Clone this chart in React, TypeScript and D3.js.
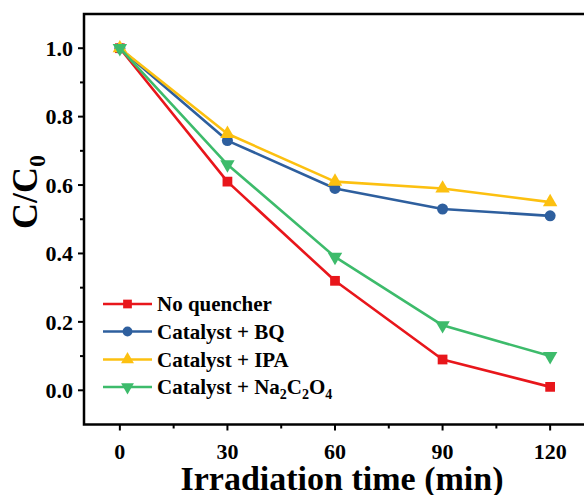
import React, { useEffect, useRef } from "react";
import * as d3 from "d3";

const times = [0, 30, 60, 90, 120];
const noQuencher = [1.0, 0.61, 0.32, 0.09, 0.01];
const catalystBQ = [1.0, 0.73, 0.59, 0.53, 0.51];
const catalystIPA = [1.0, 0.75, 0.61, 0.59, 0.55];
const catalystNa = [1.0, 0.66, 0.39, 0.19, 0.1];

const xTicks = [0, 30, 60, 90, 120];
const xMinor = [15, 45, 75, 105];
const yTicks = [0.0, 0.2, 0.4, 0.6, 0.8, 1.0];
const yMinor = [0.1, 0.3, 0.5, 0.7, 0.9];

const series = [
  { name: "No quencher", values: noQuencher, color: "#e8161b", symbol: d3.symbolSquare, size: 95, rot: 0 },
  { name: "Catalyst + BQ", values: catalystBQ, color: "#2e5f9e", symbol: d3.symbolCircle, size: 95, rot: 0 },
  { name: "Catalyst + IPA", values: catalystIPA, color: "#fcc010", symbol: d3.symbolTriangle, size: 90, rot: 0 },
  { name: "Catalyst + Na2C2O4", values: catalystNa, color: "#3dbb6b", symbol: d3.symbolTriangle, size: 90, rot: 180 },
];

const W = 584;
const H = 495;
const FONT = "'Liberation Serif', 'Times New Roman', serif";

export default function App() {
  const ref = useRef<SVGSVGElement>(null);

  useEffect(() => {
    const svg = d3.select(ref.current);
    svg.selectAll("*").remove();

    const x = d3.scaleLinear().domain([-10, 130]).range([84, 586]);
    const y = d3.scaleLinear().domain([-0.1, 1.1]).range([424.5, 14]);

    svg.append("rect").attr("width", W).attr("height", H).attr("fill", "#fff");

    // frame
    svg
      .append("rect")
      .attr("x", x(-10))
      .attr("y", y(1.1))
      .attr("width", x(130) - x(-10))
      .attr("height", y(-0.1) - y(1.1))
      .attr("fill", "none")
      .attr("stroke", "#000")
      .attr("stroke-width", 2.5);

    const g = svg.append("g").attr("font-family", FONT).attr("font-weight", "bold");

    // x ticks
    xTicks.forEach((t) => {
      g.append("line")
        .attr("x1", x(t)).attr("x2", x(t))
        .attr("y1", y(-0.1)).attr("y2", y(-0.1) + 6)
        .attr("stroke", "#000").attr("stroke-width", 2);
      g.append("text")
        .attr("x", x(t)).attr("y", 459)
        .attr("text-anchor", "middle")
        .attr("font-size", 22)
        .text(t);
    });
    xMinor.forEach((t) => {
      g.append("line")
        .attr("x1", x(t)).attr("x2", x(t))
        .attr("y1", y(-0.1)).attr("y2", y(-0.1) + 4)
        .attr("stroke", "#000").attr("stroke-width", 2);
    });

    // y ticks
    yTicks.forEach((t) => {
      g.append("line")
        .attr("x1", x(-10) - 6).attr("x2", x(-10))
        .attr("y1", y(t)).attr("y2", y(t))
        .attr("stroke", "#000").attr("stroke-width", 2);
      g.append("text")
        .attr("x", 73).attr("y", y(t))
        .attr("dy", "0.35em")
        .attr("text-anchor", "end")
        .attr("font-size", 22)
        .text(t.toFixed(1));
    });
    yMinor.forEach((t) => {
      g.append("line")
        .attr("x1", x(-10) - 4).attr("x2", x(-10))
        .attr("y1", y(t)).attr("y2", y(t))
        .attr("stroke", "#000").attr("stroke-width", 2);
    });

    // axis titles
    g.append("text")
      .attr("x", 342).attr("y", 490)
      .attr("text-anchor", "middle")
      .attr("font-size", 34)
      .text("Irradiation time (min)");

    const yt = g.append("text")
      .attr("transform", "translate(37,192) rotate(-90)")
      .attr("text-anchor", "middle")
      .attr("font-size", 36);
    yt.append("tspan").text("C/C");
    yt.append("tspan").attr("font-size", 24).attr("dy", 8).text("0");

    // lines & markers
    const line = d3.line<number>()
      .x((_, i) => x(times[i]))
      .y((d) => y(d));

    series.forEach((s) => {
      svg.append("path")
        .attr("d", line(s.values))
        .attr("fill", "none")
        .attr("stroke", s.color)
        .attr("stroke-width", 2.6)
        .attr("stroke-linejoin", "round");
      const sym = d3.symbol().type(s.symbol).size(s.size);
      s.values.forEach((v, i) => {
        svg.append("path")
          .attr("d", sym())
          .attr("fill", s.color)
          .attr("transform", `translate(${x(times[i])},${y(v)}) rotate(${s.rot})`);
      });
    });

    // legend
    const rows = [304, 331.5, 359.5, 387];
    series.forEach((s, i) => {
      const ly = rows[i];
      svg.append("line")
        .attr("x1", 103).attr("x2", 152)
        .attr("y1", ly).attr("y2", ly)
        .attr("stroke", s.color).attr("stroke-width", 2.6);
      svg.append("path")
        .attr("d", d3.symbol().type(s.symbol).size(s.size * 0.8)())
        .attr("fill", s.color)
        .attr("transform", `translate(127.5,${ly}) rotate(${s.rot})`);
      const txt = g.append("text")
        .attr("x", 157).attr("y", ly)
        .attr("dy", "0.35em")
        .attr("font-size", 21);
      if (s.name === "Catalyst + Na2C2O4") {
        txt.append("tspan").text("Catalyst + Na");
        txt.append("tspan").attr("font-size", 14).attr("dy", 5).text("2");
        txt.append("tspan").attr("dy", -5).text("C");
        txt.append("tspan").attr("font-size", 14).attr("dy", 5).text("2");
        txt.append("tspan").attr("dy", -5).text("O");
        txt.append("tspan").attr("font-size", 14).attr("dy", 5).text("4");
      } else {
        txt.text(s.name);
      }
    });
  }, []);

  return (
    <svg
      ref={ref}
      width={W}
      height={H}
      style={{ position: "absolute", left: 0, top: 0 }}
    />
  );
}
